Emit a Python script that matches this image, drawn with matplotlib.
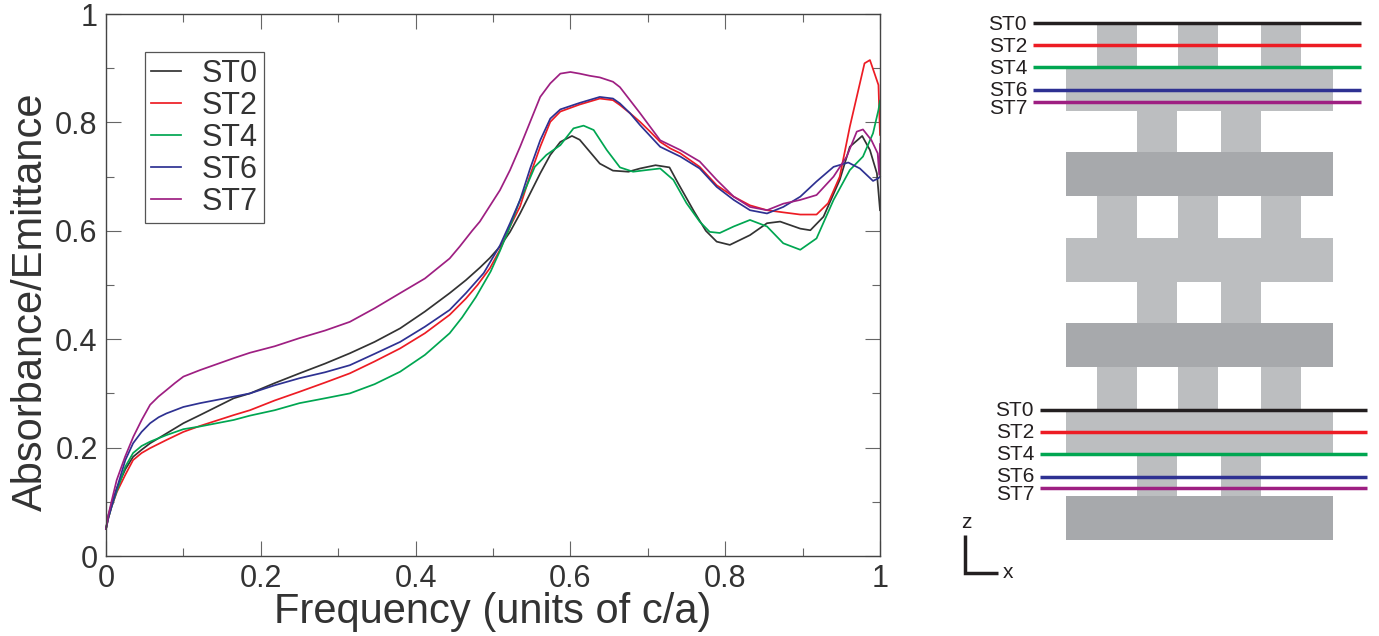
import matplotlib
matplotlib.use("Agg")
import matplotlib.pyplot as plt
from matplotlib.patches import Rectangle

plt.rcParams["font.family"] = ["Liberation Sans", "DejaVu Sans"]

# === Spectra ===
st0_x = [0, .003, .007, .014, .025, .035, .046, .057, .078, .1, .1215, .165, .186, .218, .25, .283, .315, .347, .38, .412,
         .444, .465, .483, .496, .509, .522, .535, .548, .561, .574, .587, .602, .612, .638, .655, .675, .69, .70, .71,
         .728, .739, .76, .775, .789, .806, .832, .854, .871, .897, .91, .927, .948, .961, .977, .987, .996, 1]
st0_y = [.05, .075, .095, .125, .16, .183, .196, .208, .226, .245, .26, .291, .30, .319, .337, .355, .374, .395, .42, .451,
         .485, .509, .532, .55, .571, .598, .632, .669, .706, .74, .764, .775, .768, .724, .711, .709, .715, .718, .721,
         .717, .688, .635, .60, .58, .574, .592, .614, .617, .604, .601, .626, .694, .755, .775, .749, .706, .638]
st2_x = [0, .003, .007, .014, .025, .035, .046, .057, .078, .1, .1215, .165, .186, .218, .25, .283, .315, .347, .38, .412,
         .444, .465, .48, .496, .509, .522, .535, .548, .561, .574, .587, .612, .638, .655, .664, .677, .69, .703, .716,
         .729, .742, .767, .789, .811, .832, .854, .875, .897, .918, .933, .948, .961, .974, .98, .987, .993, .998, 1]
st2_y = [.05, .07, .09, .118, .15, .177, .19, .199, .214, .229, .24, .26, .269, .287, .303, .32, .337, .359, .383, .411,
         .445, .475, .50, .531, .565, .608, .645, .703, .755, .801, .82, .833, .844, .841, .832, .817, .801, .783, .764,
         .752, .743, .718, .684, .663, .647, .638, .634, .63, .63, .651, .70, .792, .872, .909, .915, .89, .869, .777]
st4_x = [0, .003, .007, .014, .025, .035, .046, .057, .078, .1, .1215, .165, .186, .218, .25, .283, .315, .347, .38, .412,
         .444, .46, .478, .497, .509, .522, .535, .543, .554, .569, .587, .604, .617, .63, .647, .664, .681, .698, .716,
         .733, .75, .767, .78, .793, .811, .832, .854, .875, .897, .918, .94, .961, .978, .991, .998, 1]
st4_y = [.05, .07, .09, .12, .165, .19, .203, .211, .223, .234, .239, .251, .259, .269, .282, .291, .30, .317, .34, .371,
         .411, .44, .478, .525, .563, .608, .657, .681, .718, .74, .758, .789, .794, .786, .749, .717, .709, .712, .715,
         .694, .651, .617, .598, .596, .608, .62, .608, .577, .565, .586, .657, .712, .737, .78, .823, .84]
st6_x = [0, .003, .007, .014, .025, .035, .046, .057, .068, .078, .1, .1215, .165, .186, .218, .25, .283, .315, .347, .38,
         .412, .444, .465, .488, .509, .522, .535, .548, .561, .574, .587, .612, .638, .655, .664, .677, .69, .703, .716,
         .729, .742, .767, .789, .811, .832, .854, .875, .897, .918, .94, .959, .974, .991, .998, 1]
st6_y = [.05, .07, .09, .125, .177, .208, .229, .245, .256, .263, .275, .282, .294, .30, .315, .328, .339, .352, .373, .395,
         .423, .454, .485, .522, .573, .614, .657, .715, .767, .807, .824, .836, .847, .844, .835, .817, .795, .775, .755,
         .746, .737, .715, .681, .657, .638, .632, .644, .663, .691, .718, .726, .715, .692, .697, .70]
st7_x = [0, .003, .007, .0138, .0246, .0353, .0461, .057, .0677, .078, .089, .1, .1215, .165, .186, .218, .25, .283, .315,
         .347, .38, .412, .444, .457, .473, .483, .509, .522, .535, .548, .561, .574, .587, .60, .612, .625, .638, .655,
         .664, .677, .69, .703, .716, .729, .742, .767, .789, .811, .832, .854, .875, .897, .918, .94, .957, .97, .978,
         .989, .997, .999, 1]
st7_y = [.05, .075, .1, .14, .183, .22, .251, .279, .294, .306, .319, .331, .343, .365, .375, .387, .402, .416, .432,
         .457, .485, .512, .549, .571, .60, .617, .675, .712, .755, .801, .847, .872, .89, .893, .89, .886, .883, .875,
         .865, .841, .817, .792, .767, .758, .749, .728, .694, .663, .644, .638, .65, .657, .666, .70, .737, .783, .787,
         .767, .743, .703, .76]

names = ["ST0", "ST2", "ST4", "ST6", "ST7"]
colors = ["#333333", "#ED1C24", "#00A651", "#2E3192", "#9E1F82"]
spectra = [(st0_x, st0_y), (st2_x, st2_y), (st4_x, st4_y), (st6_x, st6_y), (st7_x, st7_y)]

W, H = 1379, 636
fig = plt.figure(figsize=(W / 100, H / 100), dpi=100)

# === Grafico a sinistra ===
ax = fig.add_axes([106 / W, 1 - 556 / H, 774 / W, 542 / H])
for name, color, (xs, ys) in zip(names, colors, spectra):
    ax.plot(xs, ys, color=color, lw=1.25, label=name, clip_on=False, solid_joinstyle="round")

ax.set_xlim(0, 1)
ax.set_ylim(0, 1)
ax.set_xticks([0, .2, .4, .6, .8, 1])
ax.set_xticklabels(["0", "0.2", "0.4", "0.6", "0.8", "1"])
ax.set_yticks([0, .2, .4, .6, .8, 1])
ax.set_yticklabels(["0", "0.2", "0.4", "0.6", "0.8", "1"])
ax.set_xticks([.1, .3, .5, .7, .9], minor=True)
ax.set_yticks([.1, .3, .5, .7, .9], minor=True)
ax.tick_params(which="major", direction="in", length=11, width=0.8, color="#666666", top=True, right=True,
               labelsize=22, labelcolor="#333333", pad=6)
ax.tick_params(which="minor", direction="in", length=5.5, width=0.8, color="#666666", top=True, right=True)
for s in ax.spines.values():
    s.set_color("#444444")
    s.set_linewidth(1.0)
ax.set_xlabel("Frequency (units of c/a)", fontsize=30, color="#333333", va="center")
ax.xaxis.set_label_coords(0.5, -0.103)
ax.set_ylabel("Absorbance/Emittance", fontsize=30, color="#333333", va="center")
ax.yaxis.set_label_coords(-0.097, 0.469)

leg = ax.legend(loc="upper left", bbox_to_anchor=(0.05, 0.929), fontsize=22, frameon=True, fancybox=False,
                framealpha=1, edgecolor="#555555", handlelength=1.0, handletextpad=0.66, labelspacing=0.07,
                borderpad=0.2, borderaxespad=0)
leg.get_frame().set_linewidth(0.9)
for t in leg.get_texts():
    t.set_color("#333333")

# === Schema a destra, in pixel della figura ===
sk = fig.add_axes([0, 0, 1, 1], facecolor="none")
sk.set_xlim(0, W)
sk.set_ylim(H, 0)
sk.axis("off")

light = "#BCBEC0"
dark = "#A7A9AC"
wide = (1066, 1333)
pillars3 = [(1097, 1137), (1178, 1218), (1261, 1301)]
pillars2 = [(1137, 1177), (1221, 1261)]
# strati: (y0, y1, colonne, colore)
layers = [
    (23, 68, pillars3, light), (68, 111, [wide], light),
    (111, 152, pillars2, light), (152, 196, [wide], dark),
    (196, 238, pillars3, light), (238, 282, [wide], light),
    (282, 323, pillars2, light), (323, 367, [wide], dark),
    (367, 411, pillars3, light), (411, 454, [wide], light),
    (454, 496, pillars2, light), (496, 540, [wide], dark),
]
for y0, y1, cols, c in layers:
    for x0, x1 in cols:
        sk.add_patch(Rectangle((x0, y0), x1 - x0, y1 - y0, fc=c, ec="none"))

line_colors = ["#231F20", "#ED1C24", "#00A651", "#2E3192", "#9E1F82"]
top_y = [23.3, 45.3, 67.3, 89.7, 101.7]
top_text_y = [24, 46, 68, 90, 108]
bot_y = [410, 432, 454, 476.7, 488.3]
bot_text_y = [411, 433, 455, 476, 494]
for ys, tys, x0, x1, xt in [(top_y, top_text_y, 1033, 1361, 1027), (bot_y, bot_text_y, 1040, 1367, 1034)]:
    for name, c, y, ty in zip(names, line_colors, ys, tys):
        sk.plot([x0, x1], [y, y], color=c, lw=2.5, solid_capstyle="butt")
        sk.text(xt, ty, name, ha="right", va="center", fontsize=15, color="#231F20")

sk.plot([965, 965, 998], [535, 573, 573], color="#231F20", lw=2.5, solid_joinstyle="miter", solid_capstyle="butt")
sk.text(966, 522, "z", ha="center", va="center", fontsize=15, color="#231F20")
sk.text(1008, 572, "x", ha="center", va="center", fontsize=15, color="#231F20")

fig.savefig("out.png", dpi=100)
